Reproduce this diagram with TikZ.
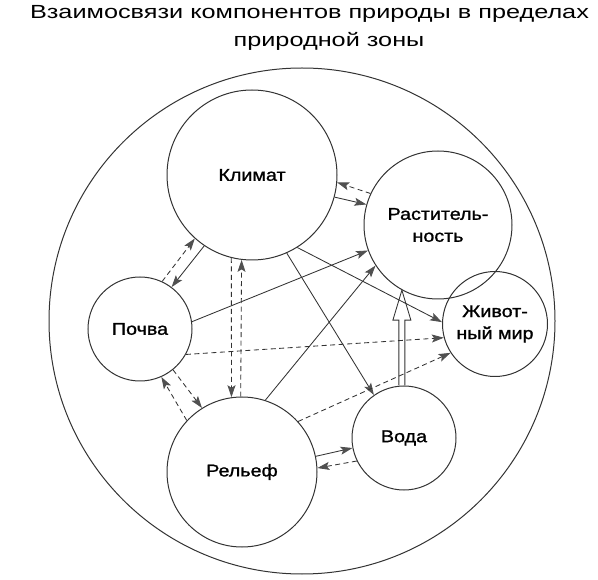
\documentclass[tikz,border=0pt]{standalone}
\usepackage{fontspec}
\setmainfont{Liberation Sans}
\newfontfamily\titlefont{Liberation Sans}[FakeStretch=1.33]
\newfontfamily\labelfont{Liberation Sans}[FakeStretch=1.16,FakeBold=1.2]
\usetikzlibrary{arrows.meta,calc}
\definecolor{ln}{HTML}{333333}
\definecolor{hd}{HTML}{505050}
\tikzset{
  comp/.style={circle,draw=ln,line width=1pt,inner sep=0pt,align=center,
    font=\labelfont\fontsize{17}{22}\selectfont,minimum size=#1},
  link/.style={draw=ln,line width=0.85pt,
    -{Stealth[length=12pt,width=8pt,inset=2.5pt,color=hd]}},
  dlink/.style={link,dash pattern=on 5pt off 3.5pt},
}

\begin{document}
\begin{tikzpicture}[x=1pt,y=-1pt]
            \useasboundingbox (0,0) rectangle (598,580);
            \node[font=\titlefont\fontsize{19}{22}\selectfont,anchor=base] (title1) at (309.5,18.5) {Взаимосвязи компонентов природы в пределах};
            \node[font=\titlefont\fontsize{19}{22}\selectfont,anchor=base] (title2) at (329,46.5) {природной зоны};
            \draw[ln,line width=1pt] (302,321) circle (253);
            \node[comp=170pt] (klimat) at (252,175) {Климат};
            \node[comp=148pt] (rast) at (438,225) {Раститель-\\ность};
            \node[comp=105pt] (zhiv) at (495,324) {Живот-\\ный мир};
            \node[comp=104pt] (pochva) at (140,329) {Почва};
            \node[comp=104pt] (voda) at (404,438) {Вода};
            \node[comp=150pt] (relief) at (242,472) {Рельеф};
            %pairs
            \draw[dlink] (rast.155) -- (klimat.-5);
            \draw[link] (klimat.-15) -- (rast.164);
            \draw[dlink] (pochva.65) -- (klimat.228);
            \draw[link] (klimat.236) -- (pochva.53);
            \draw[dlink] (klimat.-104) -- (relief.98);
            \draw[dlink] (relief.91) -- (klimat.-97.5);
            \draw[link] (relief.12) -- (voda.191);
            \draw[dlink] (voda.206) -- (relief.3);
            \draw[dlink] (pochva.-51) -- (relief.122);
            \draw[dlink] (relief.137) -- (pochva.-66);
            %single links
            \draw[link] (pochva.8) -- (rast.200);
            \draw[link] (klimat.-58) -- (zhiv.178);
            \draw[link] (klimat.-66) -- (voda.125);
            \draw[link] (relief.72) -- (rast.213);
            \draw[dlink] (pochva.-29) -- (zhiv.195);
            \draw[dlink] (relief.42) -- (zhiv.213);
            %hollow arrow water -> plants
            \coordinate (tip) at (rast.-119);
            \coordinate (foot) at (tip |- voda.north);
            \draw[ln,line width=0.85pt] ($(foot)+(-3,0)$) -- ($(tip)+(-3,30)$) -- ($(tip)+(-9,30)$) -- (tip)
                -- ($(tip)+(9,30)$) -- ($(tip)+(3,30)$) -- ($(foot)+(3,0)$);
        \end{tikzpicture}
\end{document}
